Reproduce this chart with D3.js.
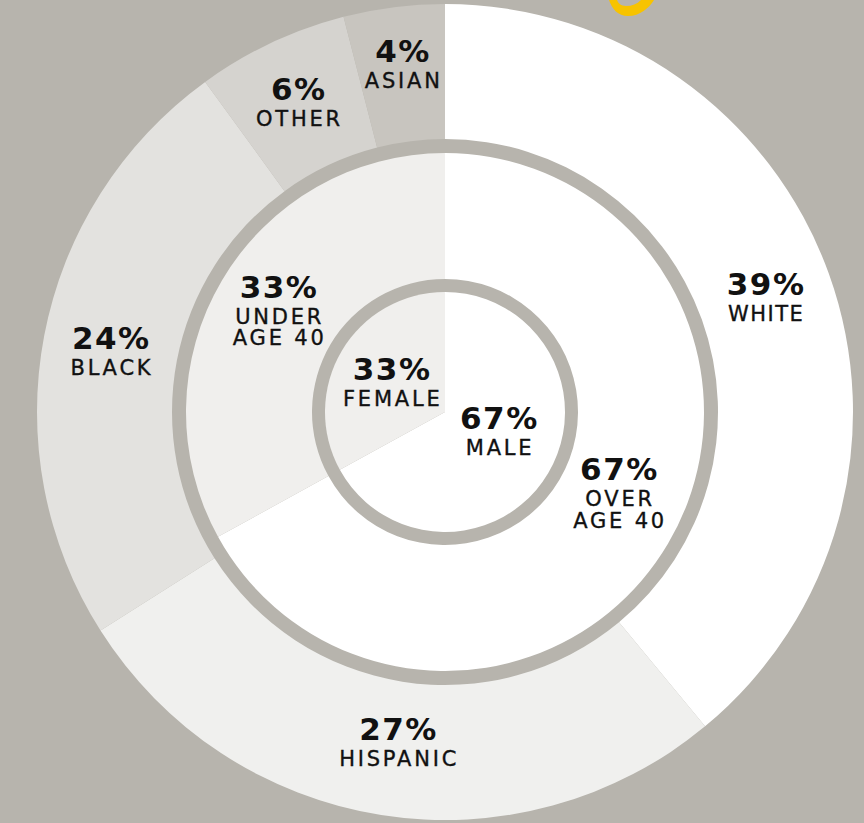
<!DOCTYPE html>
<html>
<head>
<meta charset="utf-8">
<script src="https://cdn.jsdelivr.net/npm/d3@7"></script>
<style>
  html, body { margin: 0; padding: 0; background: #b7b4ad; }
  svg { display: block; }
</style>
</head>
<body>
<svg id="chart" width="864" height="823"></svg>
<script>
// ---- data ----
const raceLabels = ["WHITE", "HISPANIC", "BLACK", "OTHER", "ASIAN"];
const raceValues = [39, 27, 24, 6, 4];
const raceColors = ["#ffffff", "#f0f0ee", "#e3e2df", "#d5d3cf", "#c8c5bf"];

const ageLabels = [["OVER", "AGE 40"], ["UNDER", "AGE 40"]];
const ageValues = [67, 33];
const ageColors = ["#ffffff", "#f0efed"];

const genderLabels = [["MALE"], ["FEMALE"]];
const genderValues = [67, 33];
const genderColors = ["#ffffff", "#f0efed"];

// ---- layout ----
const cx = 445, cy = 412;
const svg = d3.select("#chart");
const g = svg.append("g").attr("transform", `translate(${cx},${cy})`);

const pie = d3.pie().sort(null).value(d => d.value);

const rings = [
  { labels: raceLabels.map(l => [l]), values: raceValues, colors: raceColors, inner: 273, outer: 408,
    nudge: [[0, 0], [6, -7], [0, 2], [-2, -2], [0, -11]] },
  { labels: ageLabels, values: ageValues, colors: ageColors, inner: 133, outer: 259,
    nudge: [[5, -19], [2, -2]] },
  { labels: genderLabels, values: genderValues, colors: genderColors, inner: 0, outer: 120,
    nudge: [[2, -12], [-2, 0]] }
];

const lineGap = 21.5;

rings.forEach((ring, ri) => {
  const data = ring.values.map((v, i) => ({ value: v, label: ring.labels[i], color: ring.colors[i], nudge: ring.nudge[i] }));
  const arcs = pie(data);
  const arc = d3.arc().innerRadius(ring.inner).outerRadius(ring.outer);
  const rg = g.append("g").attr("class", "ring" + ri);
  rg.selectAll("path").data(arcs).join("path")
    .attr("d", arc)
    .attr("fill", d => d.data.color);

  const lg = rg.selectAll("g.lab").data(arcs).join("g").attr("class", "lab")
    .attr("transform", d => {
      const c = arc.centroid(d);
      return `translate(${c[0] + d.data.nudge[0]},${c[1] + d.data.nudge[1]})`;
    });

  lg.each(function(d) {
    const sel = d3.select(this);
    const lines = d.data.label;
    const total = 22.7 + 26 + (lines.length - 1) * lineGap;
    const base = -total / 2 + 22.7;
    sel.append("text")
      .attr("x", 0.75)
      .attr("y", base)
      .attr("text-anchor", "middle")
      .attr("font-family", "'DejaVu Sans', sans-serif")
      .attr("font-weight", "bold")
      .attr("font-size", 31)
      .attr("letter-spacing", 1.5)
      .attr("fill", "#111")
      .text(d.data.value + "%");
    const lab = sel.append("text")
      .attr("text-anchor", "middle")
      .attr("font-family", "'DejaVu Sans', sans-serif")
      .attr("font-size", 21)
      .attr("fill", "#111")
      .attr("stroke", "#111")
      .attr("stroke-width", 0.35);
    lines.forEach((t, k) => {
      const ls = t === "WHITE" ? 1.5 : 2.8;
      lab.append("tspan")
        .attr("x", ls / 2)
        .attr("y", base + 26 + k * lineGap)
        .attr("letter-spacing", ls)
        .text(t);
    });
  });
});

// yellow fragment of cut-off title (top)
svg.append("path")
  .attr("d", "M609,0 C612,9 618,16 628,16 C640,16 649,8 654,0 L641,0 C637,4 632,6 626,6 C621,6 618,3 617,0 Z")
  .attr("fill", "#f7c300");
</script>
</body>
</html>
